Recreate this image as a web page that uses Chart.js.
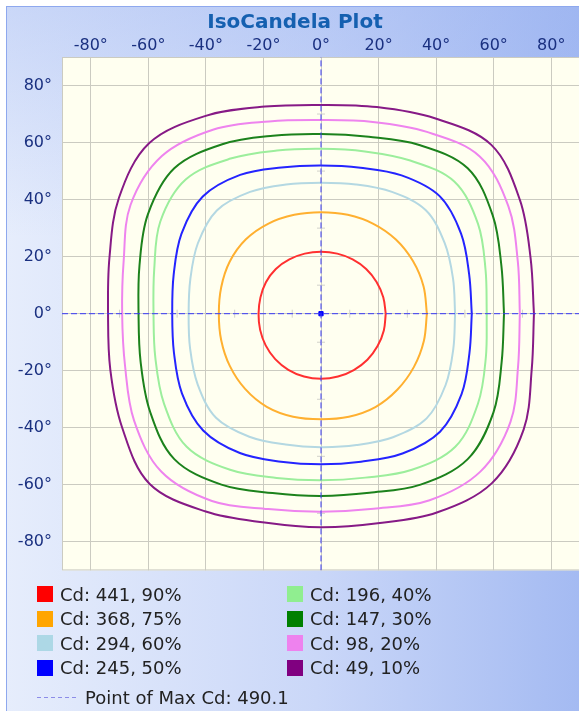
<!DOCTYPE html>
<html>
<head>
<meta charset="utf-8">
<script src="https://cdn.jsdelivr.net/npm/chart.js@4.4.1/dist/chart.umd.min.js"></script>
<style>
  body { margin: 0; width: 579px; height: 711px; overflow: hidden; background: #fff; position: relative; font-family: 'DejaVu Sans', sans-serif; }
  #frame { position: absolute; left: 6px; top: 6px; width: 620px; height: 720px; border: 1px solid #8ea8ee;
           background: linear-gradient(to bottom, rgba(150,175,240,0.35) 0%, rgba(150,175,240,0) 32%),
                       linear-gradient(to right, #e6edfc 0%, #cad7f8 50%, #9db5f1 100%); }
  #c { position: absolute; left: 0; top: 0; }
  .item { position: absolute; display: flex; align-items: center; height: 24px; font-size: 18px; color: #222; white-space: nowrap; }
  .sw { display: inline-block; width: 16px; height: 16px; margin-right: 7px; }
</style>
</head>
<body>
<div id="frame"></div>
<canvas id="c" width="600" height="590"></canvas>
<div id="legend"></div>
<script>
// candela levels (value, percent of max)
const levelCd = [441, 368, 294, 245, 196, 147, 98, 49];
const levelPct = [90, 75, 60, 50, 40, 30, 20, 10];
const maxCd = 490.1;
const maxPoint = [0, 0];

// axis ticks (degrees)
const xTicks = [-80, -60, -40, -20, 0, 20, 40, 60, 80];
const yTicks = [-80, -60, -40, -20, 0, 20, 40, 60, 80];
const minorMarks = [-70, -50, -30, -10, 10, 30, 50, 70];

// contour radius (deg from centre) read every 15 deg, counter-clockwise from +x
const angles = [0, 15, 30, 45, 60, 75, 90, 105, 120, 135, 150, 165, 180, 195, 210, 225, 240, 255, 270, 285, 300, 315, 330, 345];
const r90 = [22.5, 22.4, 22.3, 22.2, 22.0, 21.8, 21.7, 21.8, 22.0, 22.2, 22.1, 21.8, 21.7, 21.9, 22.2, 22.5, 22.7, 22.8, 22.8, 22.8, 22.8, 22.8, 22.7, 22.6];
const r75 = [36.8, 36.9, 36.9, 36.8, 36.4, 35.9, 35.6, 35.9, 36.5, 36.9, 36.6, 35.9, 35.5, 35.9, 36.6, 37.3, 37.7, 37.4, 37.0, 37.4, 37.8, 37.6, 37.3, 37.0];
const r60 = [46.6, 47.5, 49.6, 51.4, 49.3, 46.9, 45.9, 46.9, 49.3, 51.2, 49.4, 47.0, 46.0, 47.1, 49.5, 51.6, 49.8, 47.5, 46.8, 47.7, 50.0, 51.9, 50.0, 47.6];
const r50 = [52.4, 53.3, 56.2, 58.3, 56.0, 53.0, 52.0, 53.1, 56.2, 58.1, 56.0, 53.0, 51.7, 52.9, 55.8, 57.9, 56.4, 53.7, 52.8, 53.7, 56.6, 58.5, 56.4, 53.4];
const r40 = [57.6, 59.2, 63.0, 65.5, 62.0, 58.9, 57.8, 59.2, 62.8, 66.5, 64.5, 60.0, 58.2, 59.6, 63.0, 66.0, 63.2, 59.6, 58.4, 59.5, 63.2, 66.0, 63.0, 59.3];
const r30 = [63.6, 64.9, 68.9, 72.1, 68.3, 64.2, 63.0, 64.6, 68.6, 72.1, 69.5, 65.3, 63.4, 64.9, 68.6, 72.1, 69.2, 65.1, 63.9, 65.0, 69.2, 72.1, 69.2, 65.0];
const r20 = [69.1, 70.8, 75.2, 78.0, 73.6, 69.6, 67.9, 69.8, 74.6, 78.2, 76.4, 71.0, 69.1, 70.5, 75.0, 78.4, 75.8, 70.9, 69.4, 70.8, 75.5, 78.3, 76.0, 70.9];
const r10 = [74.0, 75.4, 79.8, 83.7, 79.1, 75.0, 73.2, 75.2, 80.1, 84.5, 81.1, 76.1, 74.0, 75.8, 79.8, 84.3, 80.1, 75.8, 74.9, 76.1, 80.5, 84.0, 81.3, 75.8];

const contours = [r90, r75, r60, r50, r40, r30, r20, r10];
const lineColors = ['#ff3030', '#ffb030', '#b4d8e2', '#2424ff', '#9cee9c', '#1c821c', '#ee84ee', '#861a86'];
const swatchColors = ['#ff0000', '#ffa500', '#add8e6', '#0000ff', '#90ee90', '#008000', '#ee82ee', '#800080'];
const tickColor = '#1a3080';
const gridColor = '#cbcbc1';

// polar -> x/y in degrees
function toPoints(radii) {
  const pts = radii.map((r, i) => {
    const a = angles[i] * Math.PI / 180;
    return { x: r * Math.cos(a), y: r * Math.sin(a) };
  });
  pts.push(pts[0]);
  return pts;
}

const datasets = [];
// max point crosshair
datasets.push({
  data: [{ x: maxPoint[0], y: -90 }, { x: maxPoint[0], y: 90 }],
  showLine: true, borderColor: '#3a3af6', borderWidth: 1, borderDash: [6, 3], pointRadius: 0, order: 0
});
datasets.push({
  data: [{ x: -90, y: maxPoint[1] }, { x: 90, y: maxPoint[1] }],
  showLine: true, borderColor: '#3a3af6', borderWidth: 1, borderDash: [6, 3], pointRadius: 0, order: 0
});
datasets.push({
  data: [{ x: maxPoint[0], y: maxPoint[1] }], pointStyle: 'rect', pointRadius: 3,
  backgroundColor: '#0000ff', borderColor: '#0000ff', order: 0
});
contours.forEach((radii, i) => {
  datasets.push({
    label: 'Cd: ' + levelCd[i] + ', ' + levelPct[i] + '%',
    data: toPoints(radii),
    showLine: true, borderColor: lineColors[i], borderWidth: 2, pointRadius: 0, tension: 0.35, order: 1
  });
});
// faint minor marks along the axes
datasets.push({
  data: minorMarks.map(v => ({ x: 0, y: v })),
  pointStyle: 'line', pointRadius: 4, borderColor: '#d2d2ca', borderWidth: 1, order: 3
});
datasets.push({
  data: minorMarks.map(v => ({ x: v, y: 0 })),
  pointStyle: 'line', pointRotation: 90, pointRadius: 4, borderColor: '#d2d2ca', borderWidth: 1, order: 3
});

const plotBg = {
  id: 'plotBg',
  beforeDraw(chart) {
    const { ctx, chartArea: a } = chart;
    ctx.save();
    ctx.fillStyle = '#fffff0';
    ctx.fillRect(a.left, a.top, a.right - a.left, a.bottom - a.top);
    ctx.strokeStyle = gridColor;
    ctx.lineWidth = 1;
    ctx.strokeRect(a.left + 0.5, a.top + 0.5, a.right - a.left - 1, a.bottom - a.top - 1);
    ctx.restore();
  }
};

const tickFont = { family: 'DejaVu Sans', size: 16 };

new Chart(document.getElementById('c'), {
  type: 'scatter',
  data: { datasets },
  options: {
    responsive: false,
    animation: false,
    events: [],
    layout: { padding: { left: 10, right: 20, top: 0, bottom: 15 } },
    plugins: {
      legend: { display: false },
      tooltip: { enabled: false },
      title: {
        display: true, text: 'IsoCandela Plot', color: '#1560b0',
        font: { family: 'DejaVu Sans', size: 20, weight: 'bold' },
        padding: { top: 11, bottom: 0 }
      }
    },
    scales: {
      x: {
        type: 'linear', position: 'top', min: -90, max: 90,
        afterBuildTicks: s => { s.ticks = xTicks.map(v => ({ value: v })); },
        afterFit: s => { s.height = 22; },
        grid: { color: gridColor, drawTicks: false },
        border: { display: false },
        ticks: { padding: 2, color: tickColor, font: tickFont, maxRotation: 0, autoSkip: false, callback: v => v + '°' }
      },
      y: {
        type: 'linear', position: 'left', min: -90, max: 90,
        afterBuildTicks: s => { s.ticks = yTicks.map(v => ({ value: v })); },
        afterFit: s => { s.width = 52; },
        grid: { color: gridColor, drawTicks: false },
        border: { display: false },
        ticks: { padding: 10, color: tickColor, font: tickFont, autoSkip: false, callback: v => v + '°' }
      }
    }
  },
  plugins: [plotBg]
});

// legend, two columns like the original
const legendEl = document.getElementById('legend');
levelCd.forEach((cd, i) => {
  const col = i < 4 ? 0 : 1;
  const row = i % 4;
  const item = document.createElement('div');
  item.className = 'item';
  item.style.left = (col ? 287 : 37) + 'px';
  item.style.top = (582 + row * 24.6) + 'px';
  item.innerHTML = '<span class="sw" style="background:' + swatchColors[i] + '"></span>Cd: ' + cd + ', ' + levelPct[i] + '%';
  legendEl.appendChild(item);
});
const maxItem = document.createElement('div');
maxItem.className = 'item';
maxItem.style.left = '37px';
maxItem.style.top = '685px';
maxItem.innerHTML = '<svg width="48" height="24"><line x1="0" y1="12.5" x2="40" y2="12.5" stroke="#8c8ce8" stroke-width="1" stroke-dasharray="4,3"/></svg>' +
  'Point of Max Cd: ' + maxCd;
legendEl.appendChild(maxItem);
</script>
</body>
</html>
